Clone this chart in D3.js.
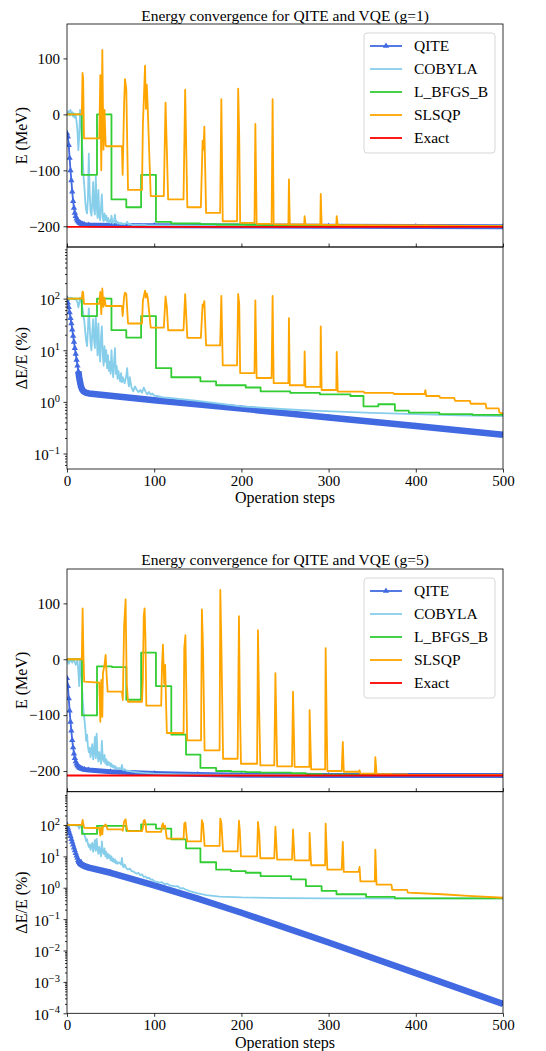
<!DOCTYPE html>
<html>
<head>
<meta charset="utf-8">
<script src="https://cdn.jsdelivr.net/npm/d3@7"></script>
<style>
  body { margin: 0; background: #fff; }
</style>
</head>
<body>
<script>
var w = 546;
var h = 1051;

// ---- data ----
var titles = ["Energy convergence for QITE and VQE (g=1)", "Energy convergence for QITE and VQE (g=5)"];
var legendNames = ["QITE", "COBYLA", "L_BFGS_B", "SLSQP", "Exact"];
var xTicks = [0, 100, 200, 300, 400, 500];
var energyTicks = [100, 0, -100, -200];
var errorExpsG1 = [-1, 0, 1, 2];
var errorExpsG5 = [-4, -3, -2, -1, 0, 1, 2];

var exactG1 = -201;
var exactG5 = -208;

// g = 1, energy (MeV)
var qiteEnergyG1 = [[0,-34],[1,-40],[2,-55],[3,-78],[4,-100],[5,-118],[6,-138],[7,-155],[8,-167],[9,-176],[10,-182],[11,-186.5],[12,-189.5],[13,-191.5],[14,-193],[15,-194.3],[16,-195.2],[18,-196.3],[20,-197],[25,-197.8],[50,-198.4],[100,-199],[200,-199.6],[300,-200.1],[400,-200.5],[500,-200.8]];
var cobylaEnergyG1 = [[0,0],[2,6],[3,-2],[4,8],[5,0],[6,4],[7,-4],[8,2],[9,-6],[10,-2],[11,-14],[12,-30],[13,-64],[14,-40],[15,8],[16,-10],[17,-40],[18,-76],[19,-111],[20,-131],[21,-157],[22,-171],[23,-177],[24,-151],[25,-70],[26,-141],[27,-173],[28,-181],[29,-157],[30,-121],[31,-169],[32,-179],[33,-111],[34,-161],[35,-185],[36,-135],[37,-181],[38,-189],[39,-165],[40,-143],[41,-185],[42,-191],[43,-177],[44,-189],[45,-181],[46,-192],[47,-185],[48,-193],[49,-189],[50,-194],[51,-181],[52,-192],[53,-195],[54,-189],[55,-179],[56,-194],[57,-191],[58,-195.4],[59,-193],[60,-195],[61,-196],[62,-193.8],[63,-196.2],[64,-195],[66,-196.4],[68,-194.6],[69,-192],[70,-195.8],[71,-197],[72,-195],[74,-197.2],[76,-197.8],[78,-197],[80,-197.6],[84,-197.6],[88,-197.2],[92,-198.2],[96,-198.2],[100,-198.3],[150,-198.9],[200,-199.3],[300,-199.7],[500,-199.9]];
var lbfgsbEnergyG1 = [[0,0],[17,-108],[34.4,0],[51,-152],[68,-166],[85,-108],[102,-192],[119.6,-195],[153,-196],[171,-196.8],[205,-197.2],[222,-197.8],[256,-198],[290,-198.2],[325,-198.4],[340,-199.4],[357,-199.2],[376,-199.6],[392,-199.8],[500,-199.9]];
var slsqpEnergyG1 = [[0,0],[17,0],[17.8,74],[18.5,65],[19.5,-43],[37,-43],[38.2,70],[39.3,-100],[40.5,115],[41.8,-63],[43,8],[44.3,-55],[45,-57],[63,-57],[63.8,-108],[65.5,20],[66.5,63],[68,45],[70,-135],[86,-135],[87,-20],[89.5,87],[90.5,10],[91.5,53],[92.5,15],[96,-146],[111,-146],[113,21],[114.5,-63],[116,-152],[133.6,-152],[135.5,44],[138,-166],[153.5,-166],[155.5,-47],[156.5,-63],[157.5,-22],[159.5,-176],[175.6,-176],[177,27],[178.6,-191],[195,-191],[196.3,46],[197.5,-40],[198.6,-194],[215,-194],[216,-17],[217.5,-195.5],[234.6,-195.5],[235.8,27],[237,-196.4],[253.9,-196.4],[254.5,-116],[255.5,-196.8],[272,-196.8],[272.5,-182],[273.5,-197],[290.5,-197],[291,-142],[292,-197.6],[308.8,-197.6],[309.3,-182],[310.5,-197.8],[340,-198],[410,-198.3],[411,-197.7],[412,-198.5],[500,-199.8]];

// g = 1, relative error (%)
var qiteErrorG1 = [[0,100],[1,83],[2,68],[3,54],[4,42],[5,33],[6,25],[7,19],[8,14.5],[9,11],[10,8.5],[11,6.5],[12,5.0],[13,3.9],[14,3.0],[15,2.4],[16,2.0],[17,1.8],[18,1.68],[19,1.6],[20,1.55],[22,1.5],[25,1.46],[100,1.08],[200,0.74],[300,0.5],[400,0.34],[500,0.23]];
var cobylaErrorG1 = [[0,100],[2,103],[3,99],[4,104],[5,100],[6,102],[7,98],[8,101],[9,97],[10,99],[11,93],[12,85],[13,68],[14,80],[15,104],[16,95],[17,80],[18,62],[19,45],[20,35],[21,22],[22,15],[23,12],[24,25],[25,65],[26,30],[27,14],[28,10],[29,22],[30,40],[31,16],[32,11],[33,45],[34,20],[35,8],[36,33],[37,10],[38,6],[39,18],[40,29],[41,8],[42,5],[43,12],[44,6],[45,10],[46,4.5],[47,8],[48,4],[49,6],[50,3.5],[51,10],[52,4.5],[53,3],[54,6],[55,11],[56,3.5],[57,5],[58,2.8],[59,4],[60,3],[61,2.5],[62,3.6],[63,2.4],[64,3],[66,2.3],[68,3.2],[69,4.5],[70,2.6],[71,2.0],[72,3.0],[74,1.9],[76,1.6],[78,2.0],[80,1.7],[82,1.55],[84,1.7],[86,1.5],[88,1.9],[90,1.6],[92,1.4],[94,1.55],[96,1.38],[98,1.45],[100,1.32],[104,1.3],[110,1.22],[120,1.18],[150,1.05],[200,0.82],[250,0.72],[282,0.68],[350,0.61],[400,0.58],[450,0.55],[500,0.53]];
var lbfgsbErrorG1 = [[0,100],[17,46],[34.4,100],[51,24.5],[68,17.5],[85,46],[102,4.5],[119.6,3.0],[153,2.5],[171,2.1],[205,1.9],[222,1.6],[256,1.5],[290,1.4],[325,1.3],[340,0.82],[357,0.9],[376,0.68],[392,0.62],[427,0.58],[465,0.56],[500,0.55]];
var slsqpErrorG1 = [[0,100],[17,100],[17.8,137],[18.5,132],[19.5,79],[37,79],[38.2,135],[39.3,50],[40.5,157],[41.8,69],[43,104],[44.3,73],[45,72],[63,72],[63.8,46],[65.5,110],[66.5,131],[68,122],[70,33],[86,33],[87,90],[89.5,143],[90.5,105],[91.5,126],[92.5,108],[96,27.4],[111,27.4],[113,110],[114.5,69],[116,24.4],[133.6,24.4],[135.5,122],[138,17.4],[153.5,17.4],[155.5,77],[156.5,69],[157.5,89],[159.5,12.4],[175.6,12.4],[177,113],[178.6,5.1],[195,5.1],[196.3,123],[197.5,80],[198.6,3.6],[215,3.6],[216,92],[217.5,2.9],[234.6,2.9],[235.8,113],[237,2.3],[253.9,2.3],[254.5,42],[255.5,2.1],[272,2.1],[272.5,9.5],[273.5,1.95],[290.5,1.95],[291,29],[292,1.7],[308.8,1.7],[309.3,9.3],[310.5,1.58],[340,1.58],[341,1.5],[374,1.5],[375,1.42],[410,1.42],[411,1.68],[412,1.3],[427,1.3],[428,1.2],[444,1.2],[445,1.05],[462,1.05],[463,0.92],[480,0.92],[481,0.75],[495,0.75],[496,0.62],[500,0.6]];

// g = 5, energy (MeV)
var qiteEnergyG5 = [[0,-34],[1,-48],[2,-70],[3,-92],[4,-112],[5,-128],[6,-145],[7,-158],[8,-169],[9,-177],[10,-183],[11,-187],[12,-190],[13,-192],[14,-193.5],[15,-194.6],[16,-195.4],[18,-196.5],[20,-197.2],[25,-198.3],[50,-201.3],[100,-204.6],[150,-206.4],[200,-207.4],[300,-208],[500,-208.2]];
var cobylaEnergyG5 = [[0,0],[2,-8],[4,0],[6,-6],[8,0],[10,-10],[12,-2],[13,-21],[14,-48],[15,0],[16,-17],[17,-42],[18,-73],[19,-94],[20,-108],[21,-125],[22,-146],[23,-135],[24,-156],[25,-166],[26,-158],[27,-175],[28,-162],[29,-152],[30,-179],[31,-166],[32,-139],[33,-177],[34,-133],[35,-171],[36,-183],[37,-166],[38,-177],[39,-187],[40,-146],[41,-179],[42,-183],[43,-171],[44,-187],[45,-179],[46,-190],[47,-183],[48,-189],[49,-185],[50,-192],[51,-187],[52,-193],[53,-190],[54,-194.5],[55,-191],[56,-195.5],[57,-193.5],[58,-196],[60,-194.5],[62,-196.5],[63,-189],[64,-197.6],[65,-198.6],[66,-196.6],[68,-199.3],[70,-200],[72,-199.5],[74,-201],[76,-201],[78,-201.8],[80,-202.2],[84,-202.8],[88,-203.4],[92,-203.8],[96,-204.3],[100,-204.7],[110,-205.2],[120,-205.6],[130,-206],[150,-206.6],[200,-207],[500,-207]];
var lbfgsbEnergyG5 = [[0,0],[17.2,-100.6],[34.4,-12.6],[51.5,-14],[68,-72.5],[85,11.7],[102,-48],[119.6,-135],[136.5,-170.5],[153,-194.5],[171,-200],[188,-201],[205,-201.8],[222,-203],[257,-204],[274,-205.6],[292,-206.3],[309,-206.7],[343,-206.9],[500,-207]];
var slsqpEnergyG5 = [[0,0],[17,0],[17.9,91],[18.8,10],[19.7,-40],[37,-42],[38.2,-112],[39.3,-37],[40.5,-103],[41.2,-25],[43,-10],[44.3,8],[45.5,-30],[46.6,-58],[63,-58],[64,-73],[65.5,60],[67.2,107],[68.5,-43],[70,-76],[86,-76],[87,-37],[88,77],[89,91],[90,34],[91,-83],[108,-83],[109,-10],[110,26],[111.5,-44],[112.5,-10],[114.5,-132],[133.7,-132],[134.5,20],[135.8,43],[137.8,-145],[153.7,-145],[154.7,89],[156,20],[157.8,-163],[175,-163],[175.8,124],[177,30],[179,-178],[195.7,-178],[197.2,77],[198.2,-73],[199.5,-187],[218,-187],[219,52],[220.5,-100],[221.7,-190],[237.7,-190],[239,-25],[241,-191.6],[258,-191.6],[259.2,-58],[261,-192.4],[278,-192.4],[278.2,-91],[280,-197],[296,-197],[296.6,20],[298.6,-200],[315,-200],[316.3,-148],[317.4,-201.3],[334.5,-201.3],[335.5,-198.5],[336.5,-204.7],[353,-204.7],[353.6,-175],[355,-205.4],[372,-205.4],[373,-206.2],[390,-206.2],[391,-206.6],[500,-207]];

// g = 5, relative error (%)
var qiteErrorG5 = [[0,100],[1,81],[2,66],[3,54],[4,44],[5,35.5],[6,29],[7,23.4],[8,19],[9,15.5],[10,12.6],[11,10.5],[12,8.9],[13,7.6],[14,6.6],[15,6.0],[16,5.6],[17,5.4],[18,5.2],[20,4.9],[25,4.4],[50,3.0],[100,1.2],[150,0.45],[200,0.16],[300,0.018],[400,0.0019],[500,0.0002]];
var cobylaErrorG5 = [[0,100],[2,96],[4,100],[6,97],[8,100],[10,95],[12,99],[13,90],[14,77],[15,100],[16,92],[17,80],[18,65],[19,55],[20,48],[21,40],[22,30],[23,35],[24,25],[25,20],[26,24],[27,16],[28,22],[29,27],[30,14],[31,20],[32,33],[33,15],[34,36],[35,18],[36,12],[37,20],[38,15],[39,10],[40,30],[41,14],[42,12],[43,18],[44,10],[45,14],[46,8.5],[47,12],[48,9],[49,11],[50,7.5],[51,10],[52,7],[53,8.5],[54,6.5],[55,8],[56,6],[57,7],[58,5.8],[60,6.5],[62,5.5],[63,9],[64,5],[65,4.5],[66,5.5],[68,4.2],[70,3.8],[72,4.1],[74,3.4],[76,3.3],[78,3.0],[80,2.8],[82,3.0],[84,2.5],[86,2.7],[88,2.2],[90,2.3],[92,2.0],[94,2.1],[96,1.8],[98,1.85],[100,1.6],[103,1.55],[106,1.45],[109,1.5],[112,1.3],[115,1.35],[118,1.2],[121,1.15],[124,1.1],[127,1.12],[130,0.95],[133,0.98],[136,0.88],[140,0.8],[145,0.72],[150,0.66],[160,0.58],[175,0.52],[200,0.49],[250,0.47],[300,0.46],[400,0.46],[500,0.46]];
var lbfgsbErrorG5 = [[0,100],[17.2,52],[34.4,94],[51.5,93],[68,65],[85,105],[102,77],[119.6,35],[136.5,18],[153,6.5],[171,3.8],[188,3.4],[205,3.0],[222,2.35],[257,1.85],[274,1.13],[292,0.8],[309,0.62],[343,0.51],[376,0.46],[500,0.46]];
var slsqpErrorG5 = [[0,100],[17,100],[17.9,144],[18.8,105],[19.7,81],[37,80],[38.2,46],[39.3,82],[40.5,50],[41.2,88],[43,95],[44.3,104],[45.5,86],[46.6,72],[63,72],[64,65],[65.5,129],[67.2,151],[68.5,79],[70,63.5],[86,63.5],[87,82],[88,137],[89,144],[90,116],[91,60],[108,60],[109,95],[110,112],[111.5,79],[112.5,95],[114.5,36.5],[133.7,36.5],[134.5,110],[135.8,120],[137.8,30],[153.7,30],[154.7,143],[156,110],[157.8,21.6],[175,21.6],[175.8,160],[177,115],[179,14.4],[195.7,14.4],[197.2,137],[198.2,65],[199.5,10],[218,10],[219,125],[220.5,52],[221.7,8.7],[237.7,8.7],[239,88],[241,7.9],[258,7.9],[259.2,72],[261,7.5],[278,7.5],[278.2,56],[280,5.2],[296,5.2],[296.6,110],[298.6,3.8],[315,3.8],[316.3,29],[317.4,3.2],[334.5,3.2],[335.5,4.6],[336.5,1.6],[353,1.6],[353.6,16.3],[355,1.26],[372,1.26],[373,0.85],[390,0.85],[391,0.7],[430,0.62],[460,0.55],[500,0.48]];

// ---- styles ----
var colors = ["#4169e1", "#87ceeb", "#32cd32", "#ffa500", "#ff0000"];
var serif = "'Liberation Serif', 'Times New Roman', serif";
var fontTick = 15, fontLabel = 16, fontTitle = 15.5, fontLegend = 15.5;
var lineWidth = 1.8;

var svg = d3.select("body").append("svg")
  .attr("width", w)
  .attr("height", h)
  .style("font-family", serif);

var x = d3.scaleLinear().domain([0, 500]).range([67, 503]);

var figures = [
  {title: titles[0], titleY: 20.5, top: 24, mid: 247, bottom: 469, xLabelY: 503,
   errDomain: [Math.pow(10, -1.3), 1000], errExps: errorExpsG1, exact: exactG1,
   energy: [qiteEnergyG1, cobylaEnergyG1, lbfgsbEnergyG1, slsqpEnergyG1],
   error: [qiteErrorG1, cobylaErrorG1, lbfgsbErrorG1, slsqpErrorG1]},
  {title: titles[1], titleY: 565, top: 569, mid: 791.7, bottom: 1013.3, xLabelY: 1047.5,
   errDomain: [1e-4, Math.pow(10, 3.06)], errExps: errorExpsG5, exact: exactG5,
   energy: [qiteEnergyG5, cobylaEnergyG5, lbfgsbEnergyG5, slsqpEnergyG5],
   error: [qiteErrorG5, cobylaErrorG5, lbfgsbErrorG5, slsqpErrorG5]}
];

var defs = svg.append("defs");
var clipCount = 0;

function makeClip(y0, y1) {
  var id = "clip" + (clipCount++);
  defs.append("clipPath").attr("id", id)
    .append("rect")
    .attr("x", x(0)).attr("y", y0)
    .attr("width", x(500) - x(0)).attr("height", y1 - y0);
  return "url(#" + id + ")";
}

function addText(parent) {
  return parent.append("text").style("font-family", serif).attr("fill", "#000");
}

function drawSeries(g, series, y, band) {
  series.forEach(function (s, i) {
    var line = d3.line()
      .x(function (d) { return x(d[0]); })
      .y(function (d) { return y(d[1]); });
    if (i == 2) line.curve(d3.curveStepAfter);

    if (i == 0) {
      // QITE: dense triangle markers merge into a thick band after the knee
      g.append("path")
        .attr("d", line(s))
        .attr("fill", "none")
        .attr("stroke", colors[0])
        .attr("stroke-width", lineWidth);
      g.append("path")
        .attr("d", line(s.filter(function (d) { return d[0] >= 13; })))
        .attr("fill", "none")
        .attr("stroke", colors[0])
        .attr("stroke-width", band)
        .attr("stroke-linejoin", "round");
      g.selectAll("path.marker")
        .data(s)
        .enter()
        .append("path")
        .attr("class", "marker")
        .attr("d", d3.symbol().type(d3.symbolTriangle).size(17))
        .attr("transform", function (d) { return "translate(" + x(d[0]) + "," + y(d[1]) + ")"; })
        .attr("fill", colors[0]);
    } else {
      g.append("path")
        .attr("d", line(s))
        .attr("fill", "none")
        .attr("stroke", colors[i])
        .attr("stroke-width", lineWidth)
        .attr("stroke-linejoin", "round");
    }
  });
}

function styleAxis(g) {
  g.attr("font-family", null).attr("font-size", null);
  g.select(".domain").remove();
  g.selectAll(".tick line").attr("stroke", "#000").attr("stroke-width", 0.8);
  g.selectAll("text")
    .style("font-family", serif)
    .style("font-size", fontTick + "px")
    .attr("fill", "#000");
}

function supText(d) {
  var e = Math.round(Math.log10(d));
  return e < 0 ? "\u2212" + Math.abs(e) : "" + e;
}

figures.forEach(function (f) {
  var yE = d3.scaleLinear().domain([-237, 161.5]).range([f.mid, f.top]);
  var yL = d3.scaleLog().domain(f.errDomain).range([f.bottom, f.mid]);

  // title
  addText(svg)
    .attr("x", (x(0) + x(500)) / 2)
    .attr("y", f.titleY)
    .attr("text-anchor", "middle")
    .style("font-size", fontTitle + "px")
    .text(f.title);

  // energy panel
  var gE = svg.append("g").attr("clip-path", makeClip(f.top, f.mid));
  drawSeries(gE, f.energy, yE, 5);
  gE.append("line")
    .attr("x1", x(0)).attr("x2", x(500))
    .attr("y1", yE(f.exact)).attr("y2", yE(f.exact))
    .attr("stroke", colors[4])
    .attr("stroke-width", lineWidth);

  // error panel
  var gL = svg.append("g").attr("clip-path", makeClip(f.mid, f.bottom));
  drawSeries(gL, f.error, yL, 6.5);

  // frames
  [[f.top, f.mid], [f.mid, f.bottom]].forEach(function (p) {
    svg.append("rect")
      .attr("x", x(0)).attr("y", p[0])
      .attr("width", x(500) - x(0)).attr("height", p[1] - p[0])
      .attr("fill", "none")
      .attr("stroke", "#000")
      .attr("stroke-width", 0.8);
  });

  // axes
  svg.append("g")
    .attr("transform", "translate(" + x(0) + ",0)")
    .call(d3.axisLeft(yE).tickValues(energyTicks).tickSize(3.5).tickPadding(3.5))
    .call(styleAxis);

  svg.append("g")
    .attr("transform", "translate(0," + f.mid + ")")
    .call(d3.axisTop(x).tickValues(xTicks).tickSize(3.5).tickFormat(""))
    .call(styleAxis);

  svg.append("g")
    .attr("transform", "translate(0," + f.bottom + ")")
    .call(d3.axisBottom(x).tickValues(xTicks).tickSize(3.5).tickPadding(3))
    .call(styleAxis);

  var minor = [];
  for (var e = -5; e < 4; e++) {
    for (var m = 2; m < 10; m++) {
      var v = m * Math.pow(10, e);
      if (v > f.errDomain[0] && v < f.errDomain[1]) minor.push(v);
    }
  }
  svg.append("g")
    .attr("transform", "translate(" + x(0) + ",0)")
    .call(d3.axisLeft(yL).tickValues(minor).tickSize(2).tickFormat(""))
    .call(styleAxis);

  var gLy = svg.append("g")
    .attr("transform", "translate(" + x(0) + ",0)")
    .call(d3.axisLeft(yL).tickValues(f.errExps.map(function (e) { return Math.pow(10, e); }))
      .tickSize(3.5).tickPadding(3.5))
    .call(styleAxis);
  gLy.selectAll(".tick text")
    .attr("dy", null)
    .attr("y", 6)
    .each(function (d) {
      var t = d3.select(this);
      t.text("");
      t.append("tspan").text("10");
      t.append("tspan")
        .attr("dy", -6.5)
        .style("font-size", "10.5px")
        .text(supText(d));
    });

  // axis labels
  addText(svg)
    .attr("transform", "translate(21," + (f.top + f.mid) / 2 + ") rotate(-90)")
    .attr("text-anchor", "middle")
    .attr("dy", "0.35em")
    .style("font-size", fontLabel + "px")
    .text("E (MeV)");
  addText(svg)
    .attr("transform", "translate(21," + (f.mid + f.bottom) / 2 + ") rotate(-90)")
    .attr("text-anchor", "middle")
    .attr("dy", "0.35em")
    .style("font-size", fontLabel + "px")
    .text("\u0394E/E (%)");
  addText(svg)
    .attr("x", (x(0) + x(500)) / 2)
    .attr("y", f.xLabelY)
    .attr("text-anchor", "middle")
    .style("font-size", fontLabel + "px")
    .text("Operation steps");

  // legend
  var lg = svg.append("g").attr("transform", "translate(364," + (f.top + 9) + ")");
  lg.append("rect")
    .attr("width", 131).attr("height", 120)
    .attr("rx", 3)
    .attr("fill", "#fff").attr("fill-opacity", 0.8)
    .attr("stroke", "#cccccc").attr("stroke-width", 0.8);
  legendNames.forEach(function (name, i) {
    var ly = 13 + i * 23;
    lg.append("line")
      .attr("x1", 6).attr("x2", 38)
      .attr("y1", ly).attr("y2", ly)
      .attr("stroke", colors[i]).attr("stroke-width", lineWidth);
    if (i == 0) {
      lg.append("path")
        .attr("d", d3.symbol().type(d3.symbolTriangle).size(17))
        .attr("transform", "translate(22," + ly + ")")
        .attr("fill", colors[0]);
    }
    addText(lg)
      .attr("x", 50).attr("y", ly)
      .attr("dy", "0.35em")
      .style("font-size", fontLegend + "px")
      .text(name);
  });
});
</script>
</body>
</html>
